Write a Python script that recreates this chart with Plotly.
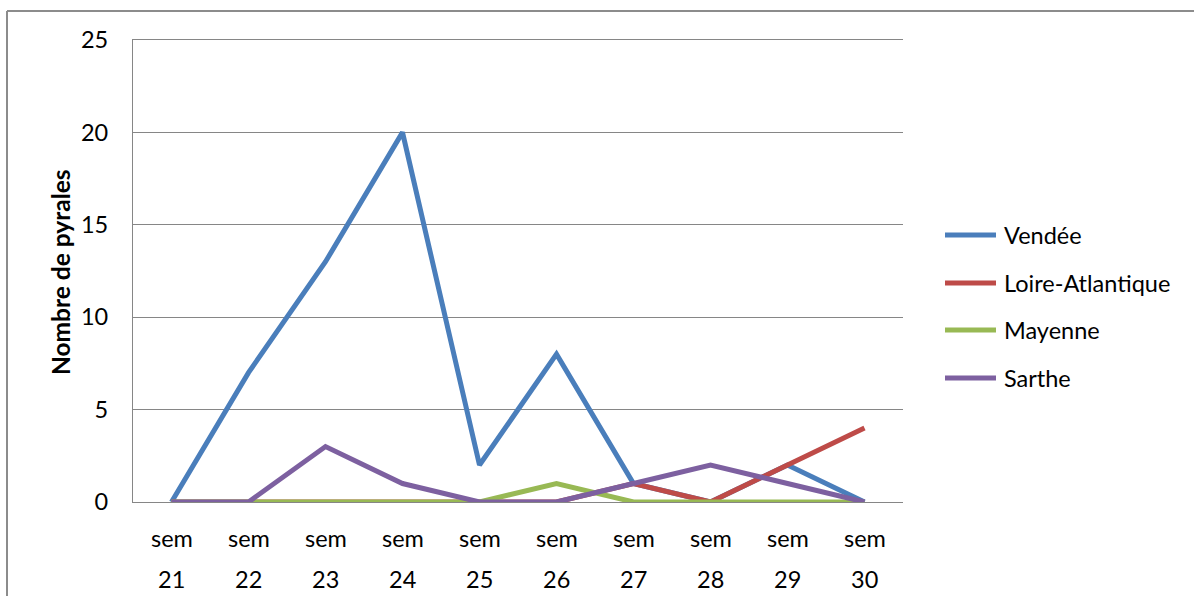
import plotly.graph_objects as go

# Weekly trap counts per département
weeks = ["21", "22", "23", "24", "25", "26", "27", "28", "29", "30"]
week_prefix = "sem"
vendee = [0, 7, 13, 20, 2, 8, 1, 0, 2, 0]
loire_atlantique = [0, 0, 0, 0, 0, 0, 1, 0, 2, 4]
mayenne = [0, 0, 0, 0, 0, 1, 0, 0, 0, 0]
sarthe = [0, 0, 3, 1, 0, 0, 1, 2, 1, 0]

series_names = ["Vendée", "Loire-Atlantique", "Mayenne", "Sarthe"]
series_values = [vendee, loire_atlantique, mayenne, sarthe]
series_colors = ["#4A7EBB", "#BE4B48", "#98B954", "#7D60A0"]

y_ticks = [0, 5, 10, 15, 20, 25]

FONT = "Lato, Calibri, Carlito, sans-serif"
FS = 23.5
GRID = "#868686"
LW = 5

# Pixel geometry of the plotting area inside the 1194x596 canvas
W, H = 1194, 596
L, R, T, B = 133, 903, 40, 502
pw, ph = R - L, B - T


def px_x(p):
    return (p - L) / pw


def px_y(p):
    return (B - p) / ph


fig = go.Figure()
x_idx = list(range(len(weeks)))
for name, vals, col in zip(series_names, series_values, series_colors):
    fig.add_trace(go.Scatter(
        x=x_idx, y=vals, mode="lines", name=name,
        line=dict(color=col, width=LW), showlegend=False,
    ))

annotations = []
# Two-line category labels under the axis
for i, w in enumerate(weeks):
    annotations.append(dict(x=i, xref="x", y=px_y(538), yref="paper", text=week_prefix,
                            showarrow=False, xanchor="center", yanchor="middle",
                            font=dict(family=FONT, size=FS, color="#000000")))
    annotations.append(dict(x=i, xref="x", y=px_y(579), yref="paper", text=w,
                            showarrow=False, xanchor="center", yanchor="middle",
                            font=dict(family=FONT, size=FS, color="#000000")))

# Axis title
annotations.append(dict(x=px_x(60), xref="paper", y=px_y(272), yref="paper",
                        text="<b>Nombre de pyrales</b>", textangle=-90, showarrow=False,
                        xanchor="center", yanchor="middle",
                        font=dict(family=FONT, size=24.5, color="#000000")))

shapes = []
# Legend entries on the right
legend_y = [235, 283, 330, 378]
for name, col, ly in zip(series_names, series_colors, legend_y):
    shapes.append(dict(type="line", xref="paper", yref="paper",
                       x0=px_x(945), x1=px_x(996), y0=px_y(ly), y1=px_y(ly),
                       line=dict(color=col, width=LW)))
    annotations.append(dict(x=px_x(1002), xref="paper", y=px_y(ly), yref="paper",
                            text=name, showarrow=False, xanchor="left", yanchor="middle",
                            font=dict(family=FONT, size=FS, color="#000000")))

# Chart frame (top and left edges)
shapes.append(dict(type="line", xref="paper", yref="paper",
                   x0=px_x(7), x1=px_x(W + 5), y0=px_y(11), y1=px_y(11),
                   line=dict(color="#8C8C8C", width=2)))
shapes.append(dict(type="line", xref="paper", yref="paper",
                   x0=px_x(7), x1=px_x(7), y0=px_y(11), y1=px_y(H + 5),
                   line=dict(color="#8C8C8C", width=2)))

fig.update_layout(
    width=W, height=H,
    margin=dict(l=L, r=W - R, t=T, b=H - B),
    paper_bgcolor="white", plot_bgcolor="white",
    font=dict(family=FONT, size=FS, color="#000000"),
    showlegend=False,
    annotations=annotations,
    shapes=shapes,
    xaxis=dict(range=[-0.5, len(weeks) - 0.5], showticklabels=False, showgrid=False,
               zeroline=False, showline=True, mirror=True, linecolor=GRID, linewidth=1.3,
               fixedrange=True),
    yaxis=dict(range=[0, 25], tickvals=y_ticks, showgrid=True, gridcolor=GRID,
               gridwidth=1.3, zeroline=False, showline=True, linecolor=GRID, linewidth=1.3,
               ticks="", ticklabelstandoff=19,
               tickfont=dict(family=FONT, size=FS, color="#000000"),
               fixedrange=True),
)

fig.write_html("out.html")
